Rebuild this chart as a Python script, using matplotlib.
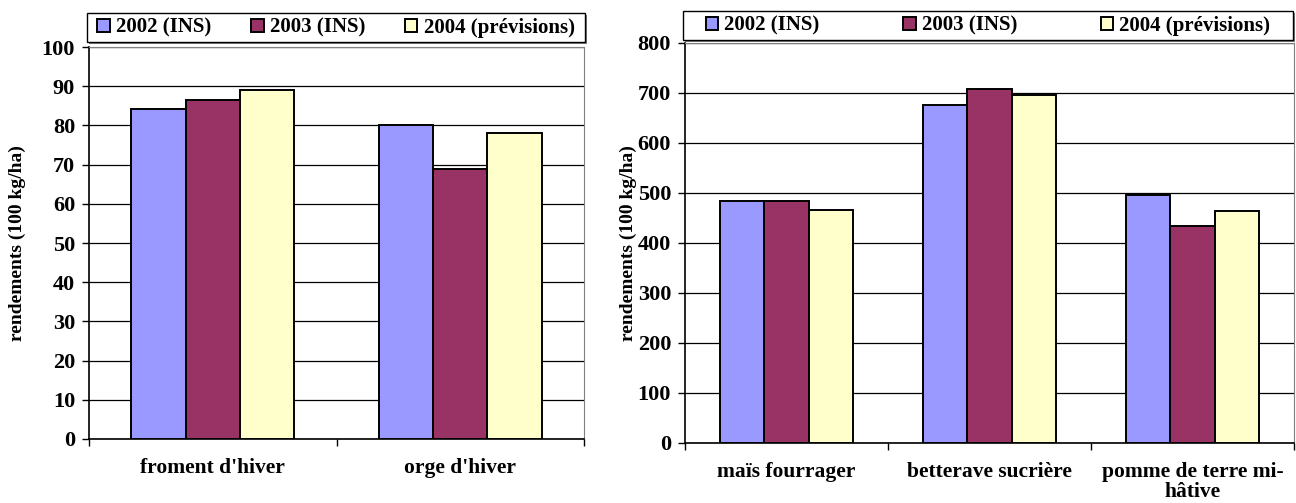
import numpy as np
import matplotlib
matplotlib.use('Agg')
from matplotlib import pyplot as plt
from matplotlib.patches import Rectangle

# data
series = ['2002 (INS)', '2003 (INS)', '2004 (prévisions)']
colors = ['#9999FF', '#993366', '#FFFFCC']

cereales = ["froment d'hiver", "orge d'hiver"]
cereales_2002 = [84.3, 80.0]
cereales_2003 = [86.6, 69.0]
cereales_2004 = [89.0, 78.0]

autres = ['maïs fourrager', 'betterave sucrière', 'pomme de terre mi-\nhâtive']
autres_2002 = [485, 677, 496]
autres_2003 = [485, 708, 435]
autres_2004 = [466, 696, 465]

plt.rcParams['font.family'] = ['Liberation Serif', 'DejaVu Serif']
plt.rcParams['font.weight'] = 'bold'

W, H = 1296, 503


def px_box(x0, x1, ytop, ybot):
    return [x0 / W, 1 - ybot / H, (x1 - x0) / W, (ybot - ytop) / H]


def legend_box(ax, box, colspace):
    x0, y0, w, h = box
    # shadow then frame, kept under the axes so the legend stays on top
    fig.patches.append(Rectangle((x0 + 2 / W, y0 - 2 / H), w, h, transform=fig.transFigure,
                                 facecolor='#808080', edgecolor='none', zorder=-2))
    fig.patches.append(Rectangle((x0, y0), w, h, transform=fig.transFigure,
                                 facecolor='white', edgecolor='black', linewidth=1.0,
                                 zorder=-1))
    leg = ax.legend(loc='center', bbox_to_anchor=(x0 + w / 2, y0 + h / 2),
                    bbox_transform=fig.transFigure, ncol=3, fontsize=15, frameon=False,
                    handlelength=0.6, handleheight=0.6, handletextpad=0.3,
                    borderaxespad=0, borderpad=0, columnspacing=colspace)
    for t in leg.get_texts():
        t.set_fontweight('bold')


def draw(ax, cats, vals, ymax, ystep):
    n = len(cats)
    x = np.arange(n)
    w = 0.22
    for i, v in enumerate(vals):
        ax.bar(x + (i - 1) * w, v, w, color=colors[i], edgecolor='black',
               linewidth=1.4, label=series[i], zorder=3)
    ax.set_xlim(-0.5, n - 0.5)
    ax.set_ylim(0, ymax)
    ax.set_yticks(np.arange(0, ymax + 1, ystep))
    ax.yaxis.grid(True, color='black', linewidth=0.9, zorder=0)
    ax.set_axisbelow(True)
    ax.set_xticks(np.arange(n + 1) - 0.5)
    ax.set_xticklabels([])
    ax.set_xticks(x, minor=True)
    ax.set_xticklabels(cats, minor=True, fontsize=15.5, fontweight='bold',
                       linespacing=0.95)
    ax.tick_params(axis='x', which='minor', length=0, pad=14)
    ax.tick_params(axis='x', which='major', length=5, width=1, direction='out')
    ax.tick_params(axis='y', length=5, width=1, direction='out', labelsize=16, pad=5)
    for t in ax.get_yticklabels():
        t.set_fontweight('bold')
    ax.spines['left'].set_color('black')
    ax.spines['bottom'].set_color('black')
    ax.spines['left'].set_linewidth(1.2)
    ax.spines['bottom'].set_linewidth(1.2)
    ax.spines['top'].set_color('#808080')
    ax.spines['right'].set_color('#808080')
    ax.set_ylabel('rendements (100 kg/ha)', fontsize=14, fontweight='bold')
    return ax


fig = plt.figure(figsize=(W / 100, H / 100), dpi=100)

ax1 = fig.add_axes(px_box(89, 584, 47, 439))
draw(ax1, cereales, [cereales_2002, cereales_2003, cereales_2004], 100, 10)
ax1.yaxis.set_label_coords(-(89 - 26) / 495, 0.5)
legend_box(ax1, px_box(87, 585, 13, 42), 1.9)

ax2 = fig.add_axes(px_box(685, 1294, 43, 443))
draw(ax2, autres, [autres_2002, autres_2003, autres_2004], 800, 100)
ax2.yaxis.set_label_coords(-(685 - 637) / 609, 0.5)
legend_box(ax2, px_box(683, 1293, 11, 40), 4.0)

fig.savefig('out.png', dpi=100)
